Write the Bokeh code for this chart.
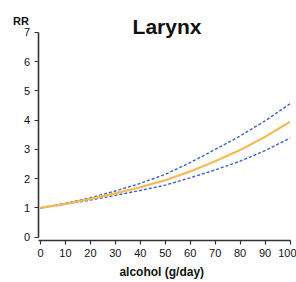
from bokeh.plotting import figure
from bokeh.models import Range1d, Label, FixedTicker
from bokeh.embed import file_html
from bokeh.resources import INLINE

alcohol = [0, 10, 20, 30, 40, 50, 60, 70, 80, 90, 100]
rr = [1.00, 1.14, 1.31, 1.50, 1.71, 1.95, 2.25, 2.60, 2.98, 3.43, 3.95]
rr_upper = [1.00, 1.16, 1.35, 1.58, 1.84, 2.15, 2.55, 3.00, 3.46, 3.98, 4.56]
rr_lower = [1.00, 1.13, 1.27, 1.43, 1.60, 1.78, 2.03, 2.30, 2.60, 2.96, 3.39]
x_ticks = [0, 10, 20, 30, 40, 50, 60, 70, 80, 90, 100]
y_ticks = [0, 1, 2, 3, 4, 5, 6, 7]
title_text = "Larynx"
y_label = "RR"
x_label = "alcohol (g/day)"

FONT = "Liberation Sans"

p = figure(width=296, height=282, output_backend="svg", toolbar_location=None,
           x_range=Range1d(-16.03, 102.6), y_range=Range1d(-1.549, 8.094),
           min_border_left=0, min_border_right=0, min_border_top=0, min_border_bottom=0)
p.outline_line_color = None
p.grid.grid_line_color = None
p.background_fill_color = "white"
p.border_fill_color = "white"

p.line(alcohol, rr_upper, line_color="#3a62c4", line_width=1.4, line_dash="3 2")
p.line(alcohol, rr_lower, line_color="#3a62c4", line_width=1.4, line_dash="3 2")
p.line(alcohol, rr, line_color="#f7b955", line_width=2.2)

for ax in (p.xaxis[0], p.yaxis[0]):
    ax.axis_line_color = "#333333"
    ax.axis_line_width = 1.6
    ax.major_tick_line_color = "#333333"
    ax.major_tick_line_width = 1.2
    ax.major_tick_out = 4
    ax.major_tick_in = 0
    ax.minor_tick_line_color = None
    ax.major_label_text_font = FONT
    ax.major_label_text_font_size = "11px"
    ax.major_label_text_color = "#111111"

p.xaxis.ticker = FixedTicker(ticks=x_ticks)
p.yaxis.ticker = FixedTicker(ticks=y_ticks)
p.xaxis.bounds = (-1, 100)
p.yaxis.bounds = (0, 7)
p.yaxis.fixed_location = -1
p.xaxis.fixed_location = -0.113
p.xaxis.major_label_standoff = 4
p.yaxis.major_label_standoff = 4

p.add_layout(Label(x=50.7, y=7.205, text=title_text, text_font=FONT, text_font_style="bold",
                   text_font_size="21px", text_align="center", text_baseline="alphabetic",
                   text_color="#111111"))
p.add_layout(Label(x=-7.8, y=7.41, text=y_label, text_font=FONT, text_font_style="bold",
                   text_font_size="11px", text_align="center", text_baseline="alphabetic",
                   text_color="#111111"))
p.add_layout(Label(x=48.6, y=-1.207, text=x_label, text_font=FONT, text_font_style="bold",
                   text_font_size="12px", text_align="center", text_baseline="alphabetic",
                   text_color="#111111"))

open("out.html", "w").write(file_html(p, INLINE))
